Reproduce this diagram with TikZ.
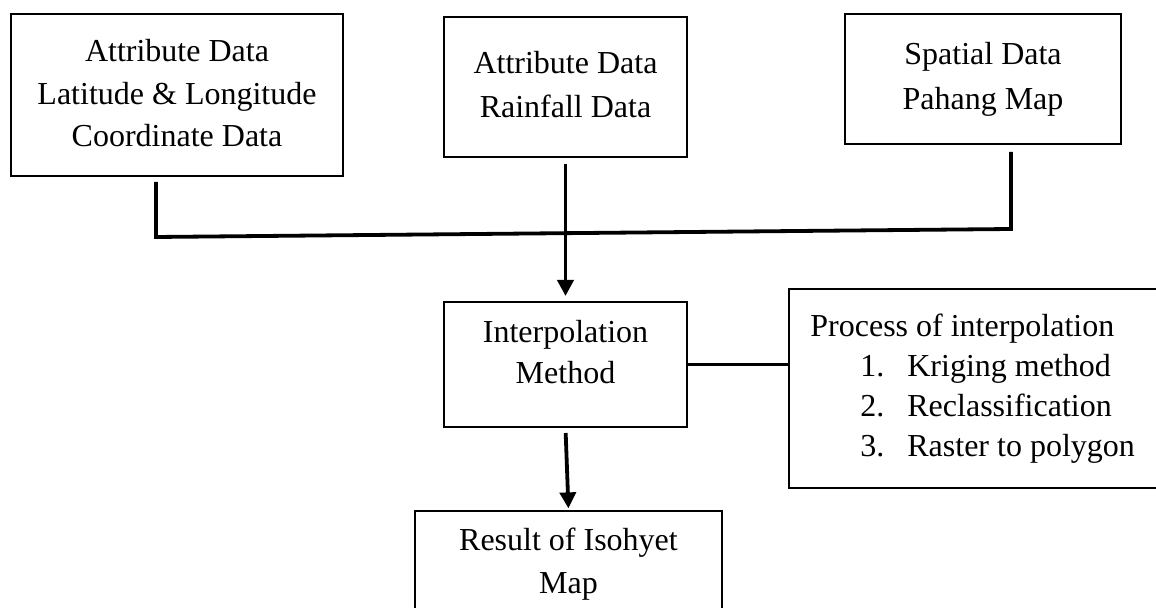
\documentclass[tikz,border=0pt]{standalone}
\usepackage{fontspec}
\setmainfont{Liberation Serif}
\usetikzlibrary{arrows.meta}
\begin{document}
\begin{tikzpicture}[x=0.5pt,y=-0.5pt,
  boxnode/.style={draw=black, line width=1pt, rectangle, inner sep=0pt, fill=none},
  txt/.style={inner sep=0pt, align=center, anchor=base},
  conn/.style={draw=black, line width=1.9pt, line join=miter},
  arrowc/.style={conn, -{Triangle[width=8pt,length=8pt]}}]
\useasboundingbox (0,0) rectangle (1156,608);
\clip (0,0) rectangle (1156,608);
\fill[white] (0,0) rectangle (1156,608);
% boxes
\node[boxnode, minimum width=166pt, minimum height=81pt] (b1) at (177,95) {};
\node[boxnode, minimum width=121.5pt, minimum height=70pt] (b2) at (565.5,87) {};
\node[boxnode, minimum width=138pt, minimum height=65pt] (b3) at (983,79) {};
\node[boxnode, minimum width=121.5pt, minimum height=62.5pt] (im) at (565.5,364.5) {};
\node[boxnode, minimum width=190.5pt, minimum height=99.5pt] (pb) at (979.5,388.5) {};
\node[boxnode, minimum width=153.5pt, minimum height=54.5pt] (rb) at (568.5,565.5) {};
% texts (anchor base = baseline of the last line)
\node[txt, font=\fontsize{16}{21.25}\selectfont] (t1) at (177,147) {Attribute Data\\Latitude \& Longitude\\Coordinate Data};
\node[txt, font=\fontsize{16}{22}\selectfont] (t2) at (565.5,118) {Attribute Data\\Rainfall Data};
\node[txt, font=\fontsize{16}{22.5}\selectfont] (t3) at (983,110) {Spatial Data\\Pahang Map};
\node[txt, font=\fontsize{16}{20.5}\selectfont] (ti) at (565.5,384) {Interpolation\\Method};
\node[txt, font=\fontsize{16}{21}\selectfont] (tr) at (568.5,593) {Result of Isohyet\\Map};
\node[txt, anchor=base west, align=left, font=\fontsize{16}{20}\selectfont] (tp) at (810,457)
  {Process of interpolation\\
   \hspace*{25pt}\makebox[23.5pt][l]{1.}Kriging method\\
   \hspace*{25pt}\makebox[23.5pt][l]{2.}Reclassification\\
   \hspace*{25pt}\makebox[23.5pt][l]{3.}Raster to polygon};
% connectors
\coordinate (j1) at (156,237);
\coordinate (j3) at (1011,229);
\draw[conn, shorten <=2.5pt, shorten >=3.5pt] (b1.south -| j1) -- (j1) -- (j3) -- (b3.south -| j3);
\draw[arrowc, shorten <=3pt, shorten >=2.5pt] (b2.south) -- (im.north);
\draw[conn] (im.east) -- (pb.west |- im.east);
\draw[arrowc, shorten <=2.5pt, shorten >=0.8pt] (im.south) -- (rb.north);
\end{tikzpicture}
\end{document}
